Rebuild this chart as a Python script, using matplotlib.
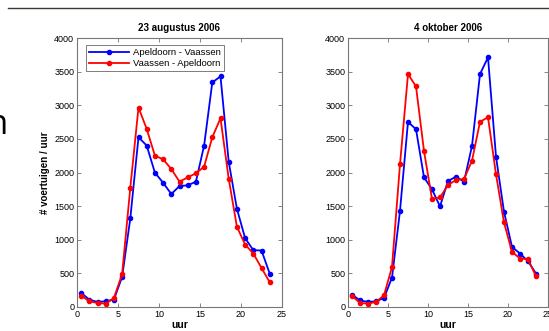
import matplotlib
matplotlib.use("Agg")
import matplotlib.pyplot as plt
from matplotlib.lines import Line2D

# hourly counts (hour midpoints)
hours = [h + 0.5 for h in range(24)]

aug_ap_va = [210, 110, 75, 85, 110, 447, 1317, 2525, 2400, 1998, 1848, 1680,
             1799, 1809, 1863, 2400, 3339, 3429, 2161, 1461, 1024, 845, 840, 497]
aug_va_ap = [169, 85, 60, 50, 134, 487, 1774, 2966, 2648, 2251, 2196, 2052,
             1863, 1928, 1988, 2087, 2524, 2807, 1908, 1193, 929, 795, 581, 368]

okt_ap_va = [184, 99, 75, 85, 134, 437, 1431, 2753, 2643, 1928, 1749, 1496,
             1873, 1938, 1863, 2395, 3463, 3712, 2236, 1416, 894, 795, 681, 497]
okt_va_ap = [164, 60, 50, 75, 174, 596, 2122, 3463, 3280, 2320, 1605, 1630,
             1814, 1888, 1903, 2176, 2753, 2822, 1973, 1257, 820, 721, 711, 457]

titles = ["23 augustus 2006", "4 oktober 2006"]
labels = ["Apeldoorn - Vaassen", "Vaassen - Apeldoorn"]

plt.rcParams['font.family'] = ['Liberation Sans', 'DejaVu Sans']

fig = plt.figure(figsize=(5.49, 3.31), dpi=100)
fig.patch.set_facecolor("white")

# slide decoration: top rule and clipped letter at the left
fig.add_artist(Line2D([8 / 549, 1.0], [1 - 7.5 / 331, 1 - 7.5 / 331],
                      color="#3b3a30", lw=1.0))
fig.text(8 / 549, 1 - 125 / 331, "n", fontsize=25, ha="right", va="center",
         family="Open Sans", color="black")

ax1 = fig.add_axes([77 / 549, 24 / 331, 205 / 549, 269 / 331])
ax2 = fig.add_axes([348 / 549, 24 / 331, 200 / 549, 269 / 331])

data = [(aug_ap_va, aug_va_ap), (okt_ap_va, okt_va_ap)]

for ax, (blue, red), title in zip([ax1, ax2], data, titles):
    ax.plot(hours, blue, color="#0000ff", marker="o", markersize=3,
            lw=1.3, label=labels[0])
    ax.plot(hours, red, color="#ff0000", marker="o", markersize=3,
            lw=1.3, label=labels[1])
    ax.set_xlim(0, 25)
    ax.set_ylim(0, 4000)
    ax.set_xticks([0, 5, 10, 15, 20, 25])
    ax.set_yticks(range(0, 4001, 500))
    ax.tick_params(direction="in", top=True, right=True, labelsize=6.5,
                   length=3, width=0.5, color="#555555", pad=2)
    for s in ax.spines.values():
        s.set_color("#777777")
        s.set_linewidth(0.8)
    ax.set_title(title, fontsize=7, fontweight="bold", pad=5)
    ax.set_xlabel("uur", fontsize=7.5, fontweight="bold", labelpad=1)

ax1.set_ylabel("# voertuigen / uur", fontsize=7, fontweight="bold", labelpad=3)
leg = ax1.legend(loc="upper left", fontsize=6.8, frameon=True, fancybox=False,
                 edgecolor="#444444", handlelength=4.3, borderpad=0.3,
                 labelspacing=0.2, handletextpad=0.4,
                 bbox_to_anchor=(0.02, 0.99))
leg.get_frame().set_linewidth(0.6)

fig.savefig("out.png", dpi=100)
